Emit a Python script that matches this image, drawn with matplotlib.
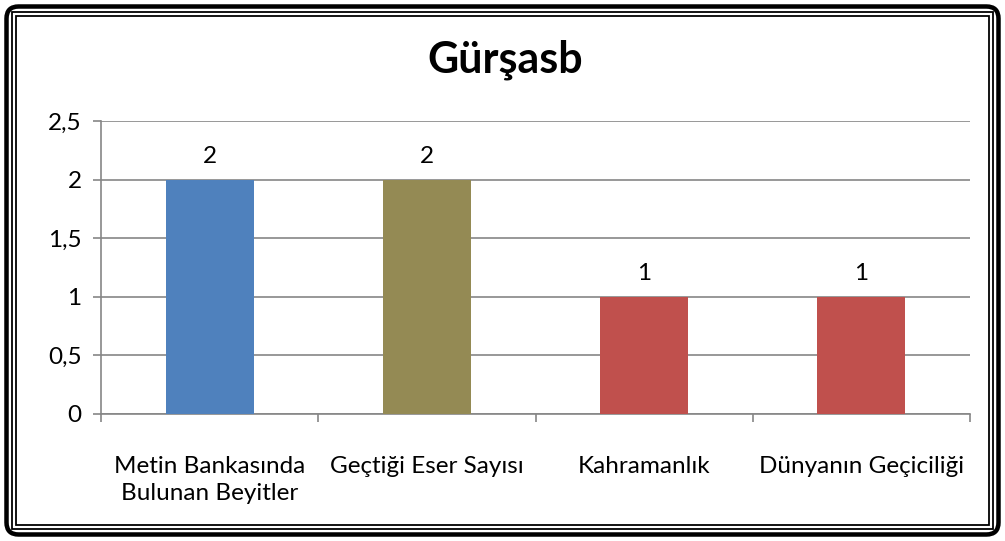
import matplotlib
matplotlib.use("Agg")
import matplotlib.pyplot as plt
from matplotlib.patches import Rectangle, FancyBboxPatch
from matplotlib.ticker import FixedLocator, FuncFormatter

# Chart data
title = "Gürşasb"
categories = ["Metin Bankasında\nBulunan Beyitler", "Geçtiği Eser Sayısı",
              "Kahramanlık", "Dünyanın Geçiciliği"]
values = [2, 2, 1, 1]
bar_colors = ["#4F81BD", "#948A54", "#C0504D", "#C0504D"]
y_ticks = [0, 0.5, 1, 1.5, 2, 2.5]

plt.rcParams["font.family"] = ["Lato", "DejaVu Sans"]

W, H, DPI = 1005, 541, 100
fig = plt.figure(figsize=(W / DPI, H / DPI), dpi=DPI)
fig.patch.set_facecolor("white")

ax = fig.add_axes([101 / W, (H - 414) / H, 869 / W, 293 / H])
x = list(range(len(categories)))
ax.bar(x, values, width=0.405, color=bar_colors, zorder=3)
ax.set_xlim(-0.5, len(categories) - 0.5)
ax.set_ylim(0, 2.5)

grid_c = "#868686"
ax.yaxis.set_major_locator(FixedLocator(y_ticks))
ax.yaxis.set_major_formatter(FuncFormatter(lambda v, p: f"{v:g}".replace(".", ",")))
ax.grid(axis="y", color=grid_c, linewidth=1.2, zorder=0)
for s in ["top", "right"]:
    ax.spines[s].set_visible(False)
for s in ["left", "bottom"]:
    ax.spines[s].set_color(grid_c)
    ax.spines[s].set_linewidth(1.2)
ax.tick_params(axis="y", length=6, width=1.2, color=grid_c, labelsize=17.5, pad=8)

# category labels at centers, tick marks at boundaries
ax.set_xticks(x)
ax.set_xticklabels(categories, fontsize=17.5, linespacing=1.4, va="top")
ax.tick_params(axis="x", which="major", length=0, pad=30)
ax.set_xticks([i - 0.5 for i in range(len(categories) + 1)], minor=True)
ax.tick_params(axis="x", which="minor", length=6, width=1.2, color=grid_c)

for xi, v in zip(x, values):
    ax.annotate(f"{v}", (xi, v), xytext=(0, 9), textcoords="offset points",
                ha="center", va="bottom", fontsize=17.5)

fig.text(505 / W, 1 - 60 / H, title, ha="center", va="center",
         fontsize=31, fontweight="bold")

# framed border
def px_rect(inset, lw_px, rounded=False):
    x0, y0 = inset / W, inset / H
    w, h = (W - 2 * inset) / W, (H - 2 * inset) / H
    lw = lw_px * 72 / DPI
    if rounded:
        p = FancyBboxPatch((x0, y0), w, h, boxstyle="round,pad=0,rounding_size=0.012",
                           transform=fig.transFigure, fill=False, edgecolor="black",
                           linewidth=lw, mutation_aspect=W / H)
    else:
        p = Rectangle((x0, y0), w, h, transform=fig.transFigure, fill=False,
                      edgecolor="black", linewidth=lw)
    fig.add_artist(p)

px_rect(6.5, 4.5, rounded=True)
px_rect(12, 1.8)
px_rect(16, 1.8)

fig.savefig("out.png", dpi=DPI, facecolor="white")
